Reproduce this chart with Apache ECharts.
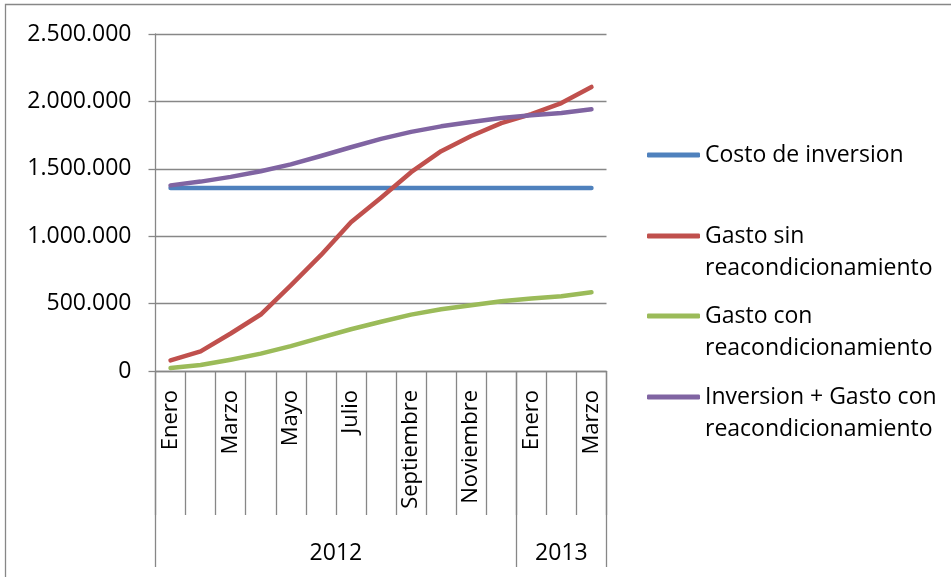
<!DOCTYPE html>
<html>
<head>
<meta charset="utf-8">
<script src="https://cdn.jsdelivr.net/npm/echarts@6/dist/echarts.min.js"></script>
<style>
  html, body { margin: 0; padding: 0; background: #fff; }
  #chart { width: 951px; height: 577px; }
</style>
</head>
<body>
<div id="chart"></div>
<script>
// Months of the period (Jan 2012 - Mar 2013)
const months = ['Enero', 'Febrero', 'Marzo', 'Abril', 'Mayo', 'Junio', 'Julio', 'Agosto',
  'Septiembre', 'Octubre', 'Noviembre', 'Diciembre', 'Enero', 'Febrero', 'Marzo'];
// Year groups under the month axis and how many months each spans
const years = ['2012', '2013'];
const monthsPerYear = [12, 3];

const seriesNames = ['Costo de inversion', 'Gasto sin\nreacondicionamiento',
  'Gasto con\nreacondicionamiento', 'Inversion + Gasto con\nreacondicionamiento'];

const costoInversion = [1357000, 1357000, 1357000, 1357000, 1357000, 1357000, 1357000, 1357000,
  1357000, 1357000, 1357000, 1357000, 1357000, 1357000, 1357000];
const gastoSin = [79000, 146000, 278000, 419000, 636000, 859000, 1104000, 1286000,
  1475000, 1631000, 1743000, 1839000, 1906000, 1988000, 2107000];
const gastoCon = [22000, 44000, 84000, 129000, 185000, 248000, 310000, 365000,
  418000, 458000, 488000, 517000, 537000, 555000, 584000];
const inversionMasGasto = [1377000, 1405000, 1440000, 1482000, 1533000, 1595000, 1660000, 1722000,
  1774000, 1815000, 1847000, 1877000, 1897000, 1914000, 1941000];

const yMax = 2500000;
const yStep = 500000;

const colors = ['#4F81BD', '#C0504D', '#9BBB59', '#8064A2'];
const values = [costoInversion, gastoSin, gastoCon, inversionMasGasto];

const FONT = '"Open Sans", sans-serif';
const FS = 23;
const FS_MONTH = 22;
const LH = 32;
const GRAY = '#878787';

// thousands separated with dots
function fmt(v) {
  return String(v).replace(/\B(?=(\d{3})+(?!\d))/g, '.');
}

// year label positions: middle of each year's span of months
const yearStarts = [];
const yearMids = [];
let acc = 0;
monthsPerYear.forEach(n => { yearStarts.push(acc); yearMids.push(acc + n / 2); acc += n; });
const yearBounds = yearStarts.concat([acc]);

// one legend block per series; two-line names get a blank leading line so the
// icon sits level with their first line
const legendCenters = [155, 236, 316, 397];
const legends = seriesNames.map((name, i) => {
  const lines = name.split('\n').length;
  const shown = lines > 1 ? lines + 1 : 1;
  const boxH = shown * LH;
  return {
    orient: 'vertical',
    left: 647,
    top: legendCenters[i] - boxH / 2,
    padding: 0,
    itemWidth: 53,
    itemHeight: 5,
    icon: 'roundRect',
    data: [name],
    formatter: n => (lines > 1 ? '\n' + n : n),
    textStyle: { fontFamily: FONT, fontSize: FS, color: '#000', lineHeight: LH },
    selectedMode: false
  };
});

const chart = echarts.init(document.getElementById('chart'), null, { renderer: 'canvas' });

chart.setOption({
  animation: false,
  backgroundColor: '#fff',
  color: colors,
  textStyle: { fontFamily: FONT },
  graphic: [{
    type: 'rect',
    shape: { x: 5.5, y: 4.5, width: 1200, height: 1200 },
    style: { fill: 'none', stroke: GRAY, lineWidth: 1.3 },
    silent: true,
    z: -10
  }],
  legend: legends,
  grid: { left: 155.5, top: 34, width: 451, height: 337, containLabel: false },
  xAxis: [{
    type: 'category',
    data: months,
    boundaryGap: true,
    axisLine: { show: true, lineStyle: { color: GRAY, width: 1.3 } },
    axisTick: { show: true, interval: 0, length: 144, lineStyle: { color: GRAY, width: 1.3 } },
    axisLabel: {
      interval: 1, rotate: 90, margin: 19,
      fontFamily: FONT, fontSize: FS_MONTH, color: '#000'
    },
    splitLine: { show: false }
  }, {
    type: 'value',
    min: 0,
    max: acc,
    position: 'bottom',
    axisLine: { show: false },
    axisTick: {
      show: true, length: 196, customValues: yearBounds,
      lineStyle: { color: GRAY, width: 1.3 }
    },
    axisLabel: {
      show: true, customValues: yearMids, margin: 171,
      fontFamily: FONT, fontSize: FS, color: '#000',
      formatter: v => years[yearMids.indexOf(v)] || ''
    },
    splitLine: { show: false }
  }],
  yAxis: {
    type: 'value',
    min: 0,
    max: yMax,
    interval: yStep,
    axisLine: { show: true, lineStyle: { color: GRAY, width: 1.3 } },
    axisTick: { show: true, length: 7, lineStyle: { color: GRAY, width: 1.3 } },
    axisLabel: {
      margin: 24, fontFamily: FONT, fontSize: FS, color: '#000',
      formatter: v => fmt(v)
    },
    splitLine: { show: true, lineStyle: { color: GRAY, width: 1.3 } }
  },
  series: seriesNames.map((name, i) => ({
    name: name,
    type: 'line',
    xAxisIndex: 0,
    data: values[i],
    showSymbol: false,
    symbol: 'none',
    smooth: false,
    lineStyle: { color: colors[i], width: 4.5, cap: 'round', join: 'round' },
    itemStyle: { color: colors[i] }
  }))
});
</script>
</body>
</html>
